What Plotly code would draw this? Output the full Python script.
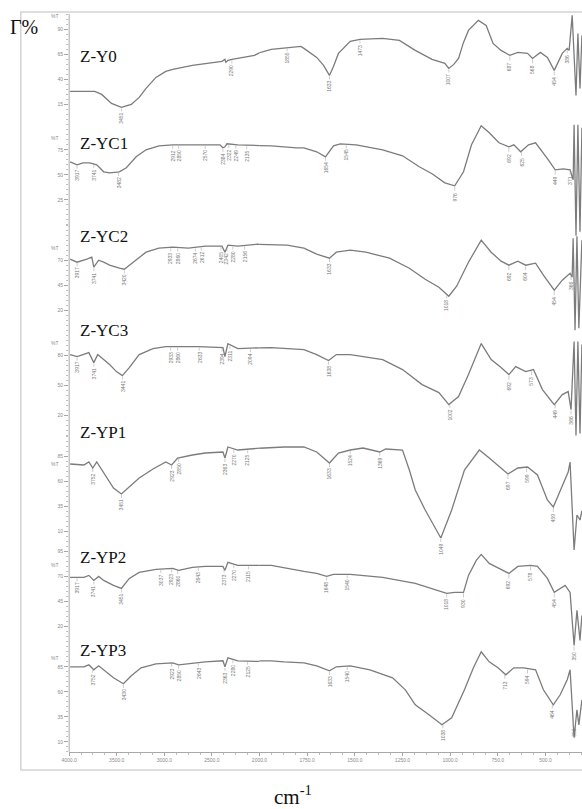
import numpy as np
import plotly.graph_objects as go

W, H = 582, 809

# ---------------- data (wavenumber cm-1, transmittance %T) ----------------
names = ["Z-Y0", "Z-YC1", "Z-YC2", "Z-YC3", "Z-YP1", "Z-YP2", "Z-YP3"]

Y0_wn = [3990, 3731, 3658, 3555, 3451, 3347, 3264, 3192, 3088, 2985, 2912, 2705, 2394, 2363, 2353, 2332, 2290, 2052,
         1938, 1855, 1783, 1767, 1700, 1664, 1633, 1612, 1586, 1524, 1473, 1354, 1266, 1183, 1095, 1028, 1007, 981, 956,
         930, 904, 852, 811, 775, 733, 687, 645, 594, 568, 527, 490, 454, 412, 386, 376, 360, 340, 330, 319, 309]
Y0_T = [28, 28, 25, 16, 12, 15, 22, 31, 42, 48, 50, 54, 58, 60, 57, 59, 60, 64,
        70, 72, 73, 71, 62, 54, 44, 53, 66, 78, 80, 81, 79, 69, 60, 56, 51, 55, 61,
        77, 89, 99, 94, 76, 69, 64, 67, 66, 61, 67, 62, 49, 66, 71, 69, 104, 24, 86, 31, 84]

YC1_wn = [3990, 3917, 3855, 3783, 3710, 3637, 3575, 3472, 3399, 3296, 3192, 3057, 2912, 2570, 2415, 2384, 2363, 2342,
          2228, 1938, 1804, 1767, 1700, 1654, 1612, 1576, 1493, 1354, 1250, 1162, 1095, 1028, 976, 930, 888, 837, 795,
          744, 692, 666, 630, 589, 552, 511, 485, 449, 407, 371, 355, 350, 340, 330, 319, 309]
YC1_T = [63, 60, 62, 62, 60, 53, 52, 53, 57, 68, 75, 79, 80, 80, 80, 77, 78, 81,
         80, 79, 77, 77, 73, 68, 79, 81, 80, 75, 69, 58, 51, 42, 39, 53, 80, 99, 92,
         82, 78, 80, 73, 80, 82, 72, 65, 55, 56, 55, 45, 100, -11, 100, -7, 97]

YC2_wn = [3990, 3917, 3814, 3762, 3741, 3690, 3637, 3575, 3472, 3420, 3327, 3192, 3057, 2912, 2746, 2570, 2394, 2363,
          2332, 2228, 2021, 1855, 1767, 1700, 1633, 1597, 1524, 1442, 1318, 1214, 1131, 1059, 1007, 966, 904, 837, 785,
          733, 692, 645, 604, 552, 511, 454, 412, 371, 360, 355, 345, 335, 325, 309]
YC2_T = [71, 68, 71, 73, 63, 70, 68, 65, 62, 61, 68, 78, 82, 83, 82, 84, 84, 78,
         85, 84, 86, 85, 82, 76, 72, 78, 80, 78, 72, 62, 51, 43, 34, 44, 68, 90, 78,
         69, 65, 69, 65, 67, 55, 40, 50, 57, 53, 92, 0, 94, 2, 90]

YC3_wn = [3990, 3917, 3793, 3741, 3700, 3637, 3575, 3503, 3441, 3368, 3264, 3119, 2985, 2643, 2384, 2363, 2332, 2228,
          1938, 1767, 1700, 1638, 1597, 1524, 1354, 1250, 1147, 1059, 1007, 956, 904, 837, 785, 733, 692, 656, 604, 563,
          516, 454, 412, 381, 366, 350, 340, 330, 319, 309]
YC3_T = [81, 79, 83, 73, 81, 76, 71, 64, 60, 68, 81, 87, 89, 89, 88, 79, 92, 87,
         88, 86, 81, 75, 81, 81, 76, 66, 51, 43, 31, 39, 61, 92, 76, 68, 61, 69, 64, 66,
         46, 31, 41, 44, 26, 94, 0, 94, 2, 91]

YP1_wn = [3990, 3845, 3793, 3752, 3710, 3658, 3606, 3534, 3451, 3368, 3264, 3119, 2985, 2923, 2860, 2705, 2570, 2384,
          2363, 2332, 2228, 1974, 1871, 1767, 1700, 1633, 1586, 1524, 1457, 1369, 1338, 1250, 1214, 1183, 1131, 1049,
          992, 925, 847, 795, 733, 697, 645, 594, 542, 490, 459, 423, 381, 371, 350, 335, 319, 309]
YP1_T = [77, 76, 79, 73, 79, 71, 63, 53, 47, 54, 63, 72, 79, 76, 83, 86, 88, 89,
         83, 94, 91, 93, 94, 94, 89, 78, 88, 91, 93, 89, 92, 91, 71, 51, 31, 3,
         31, 71, 91, 83, 73, 67, 73, 74, 66, 41, 34, 51, 69, 79, -9, 26, 21, 30]

YP2_wn = [3990, 3845, 3793, 3741, 3690, 3637, 3534, 3451, 3368, 3264, 3088, 2912, 2850, 2705, 2570, 2384, 2363, 2332,
          2228, 1938, 1767, 1700, 1648, 1612, 1524, 1354, 1183, 1059, 1018, 976, 930, 904, 863, 837, 795, 744, 692,
          645, 578, 542, 490, 454, 423, 397, 371, 350, 335, 319, 309]
YP2_T = [69, 69, 71, 66, 70, 66, 61, 58, 68, 74, 77, 78, 76, 79, 80, 80, 76, 84,
         81, 81, 75, 73, 70, 72, 72, 69, 63, 56, 53, 54, 54, 71, 86, 92, 83, 78, 73,
         80, 81, 80, 68, 54, 58, 61, 54, 1, 36, 6, 31]

YP3_wn = [3990, 3845, 3793, 3741, 3690, 3637, 3534, 3430, 3347, 3244, 3088, 2912, 2850, 2570, 2384, 2363, 2332, 2228,
          1938, 1871, 1767, 1700, 1633, 1597, 1524, 1421, 1302, 1235, 1183, 1111, 1043, 992, 925, 878, 837, 795, 749,
          708, 666, 614, 552, 511, 459, 423, 386, 371, 350, 335, 325, 309]
YP3_T = [85, 85, 87, 82, 86, 82, 74, 68, 76, 84, 88, 89, 87, 90, 91, 85, 94, 91,
         91, 90, 89, 86, 81, 85, 86, 82, 74, 62, 47, 37, 27, 34, 62, 84, 100, 90, 84,
         77, 84, 84, 82, 62, 47, 57, 72, 82, 14, 42, 27, 52]

Y0_peaks = [3451, 2290, 1855, 1633, 1473, 1007, 687, 568, 454, 386]
YC1_peaks = [3917, 3741, 3482, 2912, 2850, 2570, 2384, 2322, 2249, 2135, 1654, 1545, 976, 692, 625, 449, 371]
YC2_peaks = [3917, 3741, 3420, 2933, 2860, 2674, 2612, 2405, 2342, 2280, 2156, 1633, 1018, 692, 604, 454, 366]
YC3_peaks = [3917, 3741, 3441, 2933, 2860, 2633, 2394, 2311, 2094, 1638, 1002, 692, 573, 449, 366]
YP1_peaks = [3752, 3451, 2923, 2850, 2363, 2270, 2125, 1633, 1524, 1369, 1049, 697, 599, 459]
YP2_peaks = [3917, 3741, 3451, 3037, 2923, 2860, 2643, 2373, 2270, 2115, 1648, 1540, 1018, 930, 692, 578, 454, 350]
YP3_peaks = [3752, 3430, 2923, 2850, 2643, 2363, 2280, 2125, 1633, 1540, 1038, 713, 594, 464, 355]

x_left_ticks = [4000, 3500, 3000, 2500]
x_right_ticks = [2000, 1750, 1500, 1250, 1000, 750, 500]
y_ticks = [[90, 65, 40, 15], [75, 50, 25], [70, 45, 20], [80, 50, 20],
           [85, 60, 35, 10], [95, 70, 45, 20], [85, 60, 35, 10]]

spectra = [(Y0_wn, Y0_T), (YC1_wn, YC1_T), (YC2_wn, YC2_T), (YC3_wn, YC3_T),
           (YP1_wn, YP1_T), (YP2_wn, YP2_T), (YP3_wn, YP3_T)]
peaks = [Y0_peaks, YC1_peaks, YC2_peaks, YC3_peaks, YP1_peaks, YP2_peaks, YP3_peaks]

# ---------------- layout helpers ----------------
def PX(p):
    return p / W

def PY(p):
    return 1 - p / H

SLOT_TOP0 = 14.0
SLOT_H = 105.4
EXT = 22.0
AX_LEFT = 62.0
AX_BREAK = 255.0
PX_PER_250 = 48.33
X2_END = 2000 - (W - AX_BREAK) / PX_PER_250 * 250

LINE_COL = "#7c7c7c"
TICK_COL = "#a6a6a6"
TXT_COL = "#8a8a8a"

fig = go.Figure()
layout = dict(
    width=W, height=H, margin=dict(l=0, r=0, t=0, b=0),
    paper_bgcolor="white", plot_bgcolor="rgba(0,0,0,0)", showlegend=False,
    font=dict(family="Liberation Serif", color="#111"),
)

annotations = []
for i, (wn, T) in enumerate(spectra):
    yid = "" if i == 0 else str(i + 1)
    for xa in ["x", "x2"]:
        fig.add_trace(go.Scatter(x=wn, y=T, xaxis=xa, yaxis="y" + yid, mode="lines",
                                 line=dict(color=LINE_COL, width=1.3), hoverinfo="skip"))
    top = SLOT_TOP0 + SLOT_H * i
    bot = top + SLOT_H
    et = min(EXT, top)
    eb = EXT
    layout["yaxis" + yid] = dict(
        domain=[PY(bot + eb), PY(top - et)], range=[-eb, SLOT_H + et], anchor="x",
        tickmode="array", tickvals=y_ticks[i], ticktext=[str(v) for v in y_ticks[i]],
        ticks="outside", ticklen=4, tickcolor=TICK_COL, tickwidth=0.8,
        tickfont=dict(size=5, color=TXT_COL, family="Liberation Sans"),
        showgrid=False, zeroline=False, showline=False, fixedrange=True,
        minor=dict(tickmode="array", tickvals=list(np.arange(0, SLOT_H, 5.0)), ticklen=2,
                   tickcolor="#bdbdbd", tickwidth=0.6, ticks="outside"),
    )
    pct_y = [16, 138, 248, 343, 464, 565, 658][i]
    annotations.append(dict(text="%T", x=PX(54), y=PY(pct_y), xref="paper", yref="paper",
                            xanchor="right", yanchor="middle", showarrow=False,
                            font=dict(size=5, color=TXT_COL, family="Liberation Sans")))
    name_y = [57, 143, 236, 330, 432, 557, 650][i]
    annotations.append(dict(text=names[i], x=PX(71), y=PY(name_y), xref="paper", yref="paper",
                            xanchor="left", yanchor="middle", showarrow=False,
                            font=dict(size=17, color="#111", family="Liberation Serif")))
    wn_arr = np.array(wn, dtype=float)[::-1]
    T_arr = np.array(T, dtype=float)[::-1]
    for pk in peaks[i]:
        yv = float(np.interp(pk, wn_arr, T_arr))
        xa = "x" if pk > 2000 else "x2"
        annotations.append(dict(text=str(pk), x=pk, y=yv, xref=xa, yref="y" + yid,
                                showarrow=True, arrowhead=0, arrowwidth=0.6, arrowcolor="#aaa",
                                ax=0, ay=11, standoff=1, textangle=-90,
                                font=dict(size=5, color="#777", family="Liberation Sans")))

xcommon = dict(anchor="free", position=PY(SLOT_TOP0 + 7 * SLOT_H), showgrid=False, zeroline=False,
               showline=True, linecolor="#a8a8a8", linewidth=1, ticks="outside", ticklen=3,
               tickcolor=TICK_COL, tickwidth=0.8, fixedrange=True,
               tickfont=dict(size=5, color=TXT_COL, family="Liberation Sans"))
layout["xaxis"] = dict(domain=[PX(AX_LEFT), PX(AX_BREAK)], range=[4000, 2000], tickmode="array",
                       tickvals=x_left_ticks, ticktext=[f"{v:.1f}" for v in x_left_ticks],
                       minor=dict(tickmode="array", tickvals=list(range(3875, 2000, -125)), ticklen=2,
                                  tickcolor="#bdbdbd", ticks="outside"),
                       **xcommon)
layout["xaxis2"] = dict(domain=[PX(AX_BREAK), 1.0], range=[2000, X2_END], tickmode="array",
                        tickvals=x_right_ticks, ticktext=[f"{v:.1f}" for v in x_right_ticks],
                        minor=dict(tickmode="array", tickvals=[v for v in np.arange(1937.5, X2_END, -62.5)],
                                   ticklen=2, tickcolor="#bdbdbd", ticks="outside"),
                        **xcommon)

annotations.append(dict(text="Γ%", x=0.0, y=PY(27), xref="paper", yref="paper", xanchor="left",
                        yanchor="middle", showarrow=False,
                        font=dict(size=20, color="#111", family="Liberation Serif")))
annotations.append(dict(text="cm<sup>-1</sup>", x=PX(289), y=PY(795), xref="paper", yref="paper",
                        xanchor="center", yanchor="middle", showarrow=False,
                        font=dict(size=21, color="#111", family="Liberation Serif")))
layout["annotations"] = annotations

layout["shapes"] = [
    dict(type="rect", xref="paper", yref="paper", x0=PX(13), x1=1.05, y0=PY(770), y1=PY(12),
         line=dict(color="#d4d4d4", width=1.5), fillcolor="rgba(0,0,0,0)", layer="below"),
    dict(type="line", xref="paper", yref="paper", x0=PX(AX_LEFT), x1=PX(AX_LEFT),
         y0=PY(SLOT_TOP0 + 7 * SLOT_H), y1=PY(SLOT_TOP0), line=dict(color="#a8a8a8", width=1)),
]

fig.update_layout(**layout)
fig.write_html("out.html", config={"displayModeBar": False},
               post_script="document.body.style.margin='0px';document.body.style.overflow='hidden';")
